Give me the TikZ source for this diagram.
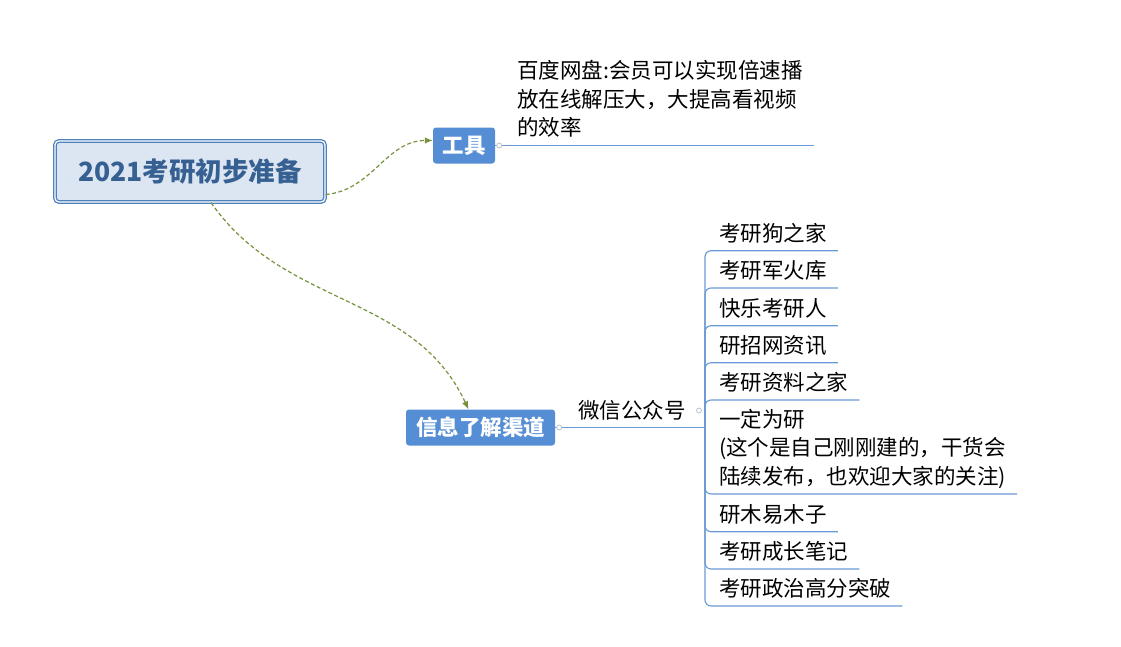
\documentclass[tikz,border=0pt]{standalone}
\usepackage{fontspec}
\setmainfont{Noto Sans CJK SC}
\usetikzlibrary{arrows.meta,positioning}
\definecolor{mmroot}{RGB}{220,230,242}
\definecolor{mmedge}{RGB}{79,129,189}
\definecolor{mmtitle}{RGB}{54,96,146}
\definecolor{mmblue}{RGB}{85,142,213}
\definecolor{mmline}{RGB}{106,154,214}
\definecolor{mmolive}{RGB}{118,146,60}
\definecolor{mmknob}{RGB}{185,195,210}
\tikzset{
    rootbox/.style={
        draw=mmedge,line width=1.3pt,double=white,double distance=1.2pt,
        rounded corners=4pt,fill=mmroot,text=mmtitle,
        minimum width=270pt,minimum height=61pt,
        font=\fontsize{26.5}{30}\selectfont\bfseries
    },
    topic/.style={
        fill=mmblue,rounded corners=3pt,text=white,
        minimum height=36pt,inner xsep=9pt,
        font=\fontsize{21.5}{26}\selectfont\bfseries
    },
    leaf/.style={
        anchor=south west,inner ysep=0pt,inner xsep=11pt,
        text depth=9.5pt,align=left,
        font=\fontsize{21.5}{28.5}\selectfont
    },
    branch/.style={draw=mmline,line width=1.1pt},
    fork/.style={draw=mmline,line width=1.1pt,rounded corners=6pt},
    link/.style={
        -{Latex[length=8pt,width=6.5pt]},draw=mmolive,
        line width=1.2pt,dash pattern=on 4pt off 2.5pt
    },
    knob/.style={draw=mmknob,line width=0.8pt,fill=white}
}
\begin{document}
\begin{tikzpicture}[x=1pt,y=-1pt]

\fill[white] (0,0) rectangle (1121,646);
\useasboundingbox (0,0) rectangle (1121,646);

\node[rootbox] (root) at (190,171.5) {2021考研初步准备};
\node[topic,minimum width=62pt] (tool) at (464,145.5) {工具};
\node[topic,minimum width=149pt] (info) at (480.5,427.5) {信息了解渠道};

\node[leaf] (pan) at (506,145.5)
{百度网盘:会员可以实现倍速播\\放在线解压大，大提高看视频\\的效率};
\draw[branch] (tool.east) -- (pan.south east);

\coordinate (wxend) at (705,427.5);
\node[leaf,inner xsep=10pt,text depth=9pt] (wx) at (568,427.5) {微信公众号};
\draw[branch] (info.east) -- (wxend);

\node[leaf] (k1) at (708,250.7) {考研狗之家};
\node[leaf] (k2) at (708,288) {考研军火库};
\node[leaf] (k3) at (708,325.7) {快乐考研人};
\node[leaf] (k4) at (708,362.7) {研招网资讯};
\node[leaf] (k5) at (708,400) {考研资料之家};
\node[leaf] (k6) at (708,494)
{一定为研\\(这个是自己刚刚建的，干货会\\陆续发布，也欢迎大家的关注)};
\node[leaf] (k7) at (708,531.7) {研木易木子};
\node[leaf] (k8) at (708,569) {考研成长笔记};
\node[leaf] (k9) at (708,606) {考研政治高分突破};

\foreach \n in {k1,k2,k3,k4,k5,k6,k7,k8,k9}
    \draw[fork] (wxend) |- (\n.south east);

\draw[knob] ([xshift=4pt]tool.east) circle (2.5pt);
\draw[knob] ([xshift=4pt]info.east) circle (2.5pt);
\draw[knob] ([xshift=-6pt,yshift=17pt]wxend) circle (2.5pt);

\draw[link] ([yshift=-23pt]root.east) to[out=5,in=180] ([yshift=5pt]tool.west);
\draw[link] ([xshift=21pt]root.south) to[out=-55,in=115] ([xshift=-12pt]info.north);

\end{tikzpicture}
\end{document}
